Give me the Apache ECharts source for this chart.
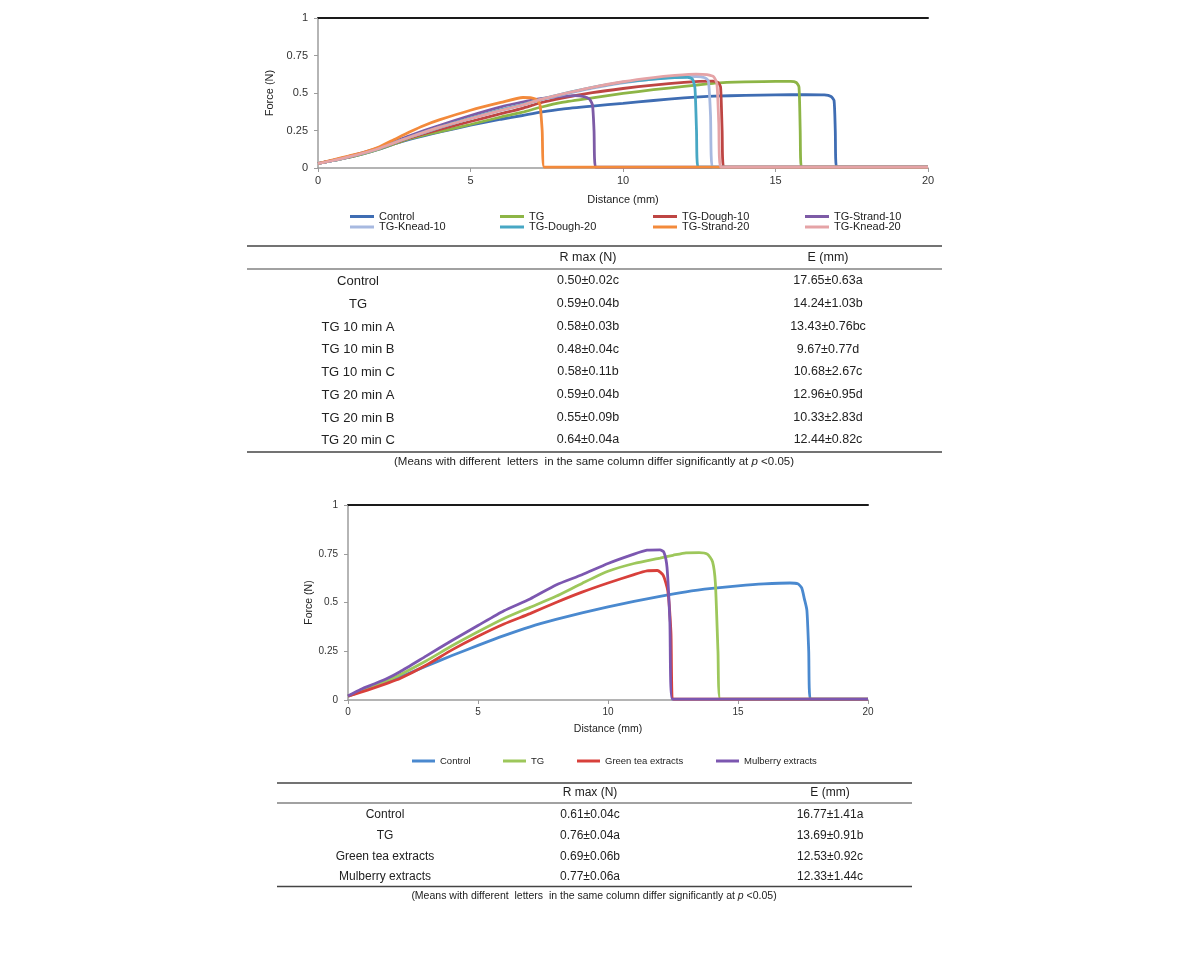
<!DOCTYPE html>
<html><head><meta charset="utf-8">
<script src="https://cdn.jsdelivr.net/npm/echarts@6/dist/echarts.min.js"></script>
<style>
html,body{margin:0;padding:0;background:#fff;}
#c1{position:absolute;left:0;top:0;width:1190px;height:475px;}
#c2{position:absolute;left:0;top:475px;width:1190px;height:480px;}
</style>
</head><body><div id="c1"></div><div id="c2"></div>
<script>
// ---------- DATA: chart 1 ----------
const names1 = ["Control","TG","TG-Dough-10","TG-Strand-10","TG-Knead-10","TG-Dough-20","TG-Strand-20","TG-Knead-20"];
const control1 = [[0,0.03],[0.5,0.05],[1,0.07],[1.5,0.095],[2,0.125],[2.5,0.16],[3,0.19],[4,0.24],[5,0.285],[6,0.325],[6.7,0.35],[7.3,0.372],[8,0.393],[9,0.413],[10,0.431],[11,0.45],[12,0.467],[12.5,0.474],[13,0.479],[14,0.484],[15,0.487],[16,0.489],[16.6,0.487],[16.82,0.477],[16.92,0.45],[16.96,0.25],[17.0,0.006],[20,0.006]];
const tg1 = [[0,0.03],[0.5,0.05],[1,0.07],[1.5,0.095],[2,0.125],[2.5,0.16],[3,0.195],[4,0.243],[5,0.29],[6,0.34],[6.7,0.372],[7.3,0.405],[8,0.437],[9,0.468],[10,0.497],[11,0.522],[12,0.544],[12.5,0.555],[13,0.566],[14,0.574],[15,0.578],[15.5,0.578],[15.68,0.57],[15.77,0.54],[15.81,0.25],[15.85,0.006],[20,0.006]];
const dough10 = [[0,0.03],[0.5,0.05],[1,0.072],[1.5,0.1],[2,0.13],[2.5,0.165],[3,0.2],[4,0.257],[5,0.31],[6,0.362],[6.7,0.398],[7.3,0.435],[8,0.466],[9,0.502],[10,0.53],[11,0.553],[12,0.571],[12.5,0.577],[12.95,0.579],[13.12,0.57],[13.2,0.54],[13.25,0.25],[13.3,0.006],[20,0.006]];
const strand10 = [[0,0.03],[0.5,0.052],[1,0.076],[1.5,0.104],[2,0.135],[2.5,0.175],[3,0.215],[4,0.285],[5,0.35],[6,0.408],[6.7,0.44],[7.3,0.463],[8,0.478],[8.4,0.482],[8.72,0.476],[8.9,0.46],[9.0,0.42],[9.05,0.25],[9.1,0.006],[20,0.006]];
const knead10 = [[0,0.03],[0.5,0.05],[1,0.074],[1.5,0.1],[2,0.13],[2.5,0.168],[3,0.205],[4,0.27],[5,0.33],[6,0.385],[6.7,0.42],[7.3,0.455],[8,0.488],[9,0.532],[10,0.568],[11,0.593],[11.7,0.606],[12.4,0.61],[12.68,0.602],[12.8,0.58],[12.87,0.35],[12.93,0.006],[20,0.006]];
const dough20 = [[0,0.03],[0.5,0.05],[1,0.074],[1.5,0.1],[2,0.13],[2.5,0.168],[3,0.205],[4,0.272],[5,0.332],[6,0.388],[6.7,0.422],[7.3,0.458],[8,0.493],[9,0.537],[10,0.572],[11,0.593],[11.7,0.603],[12.12,0.605],[12.28,0.592],[12.36,0.53],[12.41,0.25],[12.46,0.006],[20,0.006]];
const strand20 = [[0,0.03],[0.5,0.055],[1,0.08],[1.5,0.105],[2,0.14],[2.5,0.19],[3,0.24],[3.5,0.285],[4,0.322],[5,0.385],[6,0.437],[6.72,0.47],[7.0,0.468],[7.18,0.455],[7.28,0.42],[7.35,0.25],[7.42,0.006],[20,0.006]];
const knead20 = [[0,0.03],[0.5,0.05],[1,0.074],[1.5,0.1],[2,0.13],[2.5,0.168],[3,0.205],[4,0.272],[5,0.33],[6,0.385],[6.7,0.42],[7.3,0.457],[8,0.493],[9,0.538],[10,0.575],[11,0.603],[11.7,0.617],[12.4,0.626],[12.75,0.622],[12.98,0.607],[13.08,0.56],[13.14,0.3],[13.2,0.006],[20,0.006]];
const data1 = [control1,tg1,dough10,strand10,knead10,dough20,strand20,knead20];

const tableHead = ["R max (N)","E (mm)"];
const rows1 = ["Control","TG","TG 10 min A","TG 10 min B","TG 10 min C","TG 20 min A","TG 20 min B","TG 20 min C"];
const rmax1 = ["0.50±0.02c","0.59±0.04b","0.58±0.03b","0.48±0.04c","0.58±0.11b","0.59±0.04b","0.55±0.09b","0.64±0.04a"];
const e1 = ["17.65±0.63a","14.24±1.03b","13.43±0.76bc","9.67±0.77d","10.68±2.67c","12.96±0.95d","10.33±2.83d","12.44±0.82c"];

// ---------- DATA: chart 2 ----------
const names2 = ["Control","TG","Green tea extracts","Mulberry extracts"];
const control2 = [[0,0.02],[0.5,0.045],[1,0.068],[1.5,0.092],[2,0.118],[3,0.173],[4,0.228],[5,0.28],[6,0.33],[7,0.375],[8,0.413],[9,0.447],[10,0.478],[11,0.506],[12,0.532],[13,0.555],[14,0.572],[15,0.585],[16,0.595],[17,0.6],[17.3,0.596],[17.45,0.575],[17.55,0.52],[17.65,0.46],[17.72,0.25],[17.78,0.005],[20,0.005]];
const tg2 = [[0,0.02],[0.5,0.045],[1,0.072],[1.5,0.1],[2,0.13],[3,0.2],[4,0.278],[5,0.35],[6,0.418],[7,0.475],[8,0.532],[9,0.598],[10,0.66],[11,0.7],[12,0.728],[12.5,0.742],[13,0.755],[13.5,0.756],[13.82,0.748],[14.02,0.71],[14.13,0.6],[14.23,0.25],[14.32,0.005],[20,0.005]];
const greentea2 = [[0,0.02],[0.5,0.04],[1,0.062],[1.5,0.085],[2,0.11],[3,0.178],[4,0.257],[5,0.327],[6,0.39],[7,0.443],[8,0.5],[9,0.553],[10,0.6],[11,0.643],[11.5,0.662],[11.9,0.664],[12.12,0.64],[12.3,0.56],[12.42,0.35],[12.52,0.005],[20,0.005]];
const mulberry2 = [[0,0.02],[0.5,0.055],[1,0.082],[1.5,0.11],[2,0.145],[3,0.225],[4,0.305],[5,0.382],[6,0.458],[7,0.518],[8,0.59],[9,0.642],[10,0.7],[11,0.748],[11.5,0.768],[12,0.77],[12.15,0.758],[12.27,0.68],[12.38,0.4],[12.47,0.005],[20,0.005]];
const data2 = [control2,tg2,greentea2,mulberry2];

const rows2 = ["Control","TG","Green tea extracts","Mulberry extracts"];
const rmax2 = ["0.61±0.04c","0.76±0.04a","0.69±0.06b","0.77±0.06a"];
const e2 = ["16.77±1.41a","13.69±0.91b","12.53±0.92c","12.33±1.44c"];

const footnote = "(Means with different  letters  in the same column differ significantly at {i|p} <0.05)";

// ---------- STYLE ----------
const FF = "Liberation Sans, Arial, sans-serif";
const colors1 = ["#3F6DB3","#8DB546","#BE4543","#7D5BA6","#A7B9E0","#47A7C4","#F38A3B","#E5A3A6"];
const colors2 = ["#4A89CF","#9DC75B","#D8403B","#7C57B0"];

function axes(o){
  return {
    xAxis:[{type:'value',min:0,max:20,interval:5,position:'bottom',
      axisLine:{show:true,onZero:false,lineStyle:{color:'#9c9c9c',width:1.5}},
      axisTick:{show:true,length:4,lineStyle:{color:'#9c9c9c'}},
      axisLabel:{margin:o.xm,color:'#333',fontSize:o.fs,fontFamily:FF},
      splitLine:{show:false},
      name:'Distance (mm)',nameLocation:'middle',nameGap:o.xg,
      nameTextStyle:{color:'#222',fontSize:o.nfs,fontFamily:FF}},
     {type:'value',min:0,max:20,position:'top',
      axisLine:{show:true,onZero:false,lineStyle:{color:'#1a1a1a',width:2}},
      axisTick:{show:false},axisLabel:{show:false},splitLine:{show:false}}],
    yAxis:{type:'value',min:0,max:1,interval:0.25,
      axisLine:{show:true,lineStyle:{color:'#9c9c9c',width:1.5}},
      axisTick:{show:true,length:4,lineStyle:{color:'#9c9c9c'}},
      axisLabel:{margin:10,color:'#333',fontSize:o.fs,fontFamily:FF},
      splitLine:{show:false},
      name:'Force (N)',nameLocation:'middle',nameGap:o.yg,nameRotate:90,
      nameTextStyle:{color:'#222',fontSize:o.nfs,fontFamily:FF}}
  };
}

function txt(t,x,y,fs,align){
  return {type:'text',silent:true,style:{text:t,x:x,y:y,align:align||'center',verticalAlign:'middle',
    fontSize:fs,fontFamily:FF,fill:'#222'}};
}
function hline(x1,x2,y,w){
  return {type:'line',silent:true,shape:{x1:x1,y1:y,x2:x2,y2:y},style:{stroke:'#444',lineWidth:w||1.5}};
}
function foot(x,y,fs){
  return {type:'text',silent:true,style:{text:footnote,x:x,y:y,align:'center',verticalAlign:'middle',
    fontSize:fs,fontFamily:FF,fill:'#222',rich:{i:{fontStyle:'italic',fontSize:fs,fontFamily:FF,fill:'#222'}}}};
}
function mkSeries(names,data,colors){
  return names.map((n,i)=>({name:n,type:'line',data:data[i],showSymbol:false,symbol:'none',
    smooth:0.2,
    lineStyle:{width:2.8,color:colors[i]},itemStyle:{color:colors[i]},z:2+i}));
}

// ---------- CHART 1 ----------
const ch1 = echarts.init(document.getElementById('c1'),null,{renderer:'canvas'});
const ax1 = axes({fs:11,nfs:11,xm:7,xg:26,yg:38});
const legCols1 = [377,527,680,832];
const legRows1 = [217.5,228];
const legends1 = names1.map((n,i)=>({
  data:[n], left:legCols1[i%4]-27, top:legRows1[Math.floor(i/4)]-6.5, padding:0,
  itemWidth:24, itemHeight:3, icon:'rect',
  textStyle:{fontSize:11,fontFamily:FF,color:'#222'}
}));
const g1 = [hline(247,942,246),hline(247,942,269,1.2),hline(247,942,452)];
g1.push(txt(tableHead[0],588,258,12.5),txt(tableHead[1],828,258,12.5));
const rowY1 = [281,304,327,349.5,372,395,418,440];
rows1.forEach((r,i)=>{
  g1.push(txt(r,358,rowY1[i],13),txt(rmax1[i],588,rowY1[i],12.5),txt(e1[i],828,rowY1[i],12.5));
});
g1.push(foot(594,462,11.5));
ch1.setOption({
  animation:false,
  color:colors1,
  grid:{left:318,top:18,width:610,height:150,containLabel:false},
  xAxis:ax1.xAxis, yAxis:ax1.yAxis,
  legend:legends1,
  series:mkSeries(names1,data1,colors1),
  graphic:g1
});

// ---------- CHART 2 ----------
const ch2 = echarts.init(document.getElementById('c2'),null,{renderer:'canvas'});
const ax2 = axes({fs:10,nfs:10.5,xm:7,xg:24,yg:31});
const legCols2 = [438,529,603,742];
const legends2 = names2.map((n,i)=>({
  data:[n], left:legCols2[i]-26, top:287-6, padding:0,
  itemWidth:23, itemHeight:3, icon:'rect',
  textStyle:{fontSize:9.5,fontFamily:FF,color:'#222'}
}));
const g2 = [hline(277,912,308),hline(277,912,328,1.2),hline(277,912,411.5)];
g2.push(txt(tableHead[0],590,318,12),txt(tableHead[1],830,318,12));
const rowY2 = [340,361,381.5,402];
rows2.forEach((r,i)=>{
  g2.push(txt(r,385,rowY2[i],12),txt(rmax2[i],590,rowY2[i],12),txt(e2[i],830,rowY2[i],12));
});
g2.push(foot(594,421.5,10.5));
ch2.setOption({
  animation:false,
  color:colors2,
  grid:{left:348,top:30,width:520,height:195,containLabel:false},
  xAxis:ax2.xAxis, yAxis:ax2.yAxis,
  legend:legends2,
  series:mkSeries(names2,data2,colors2),
  graphic:g2
});
</script>
</body></html>
